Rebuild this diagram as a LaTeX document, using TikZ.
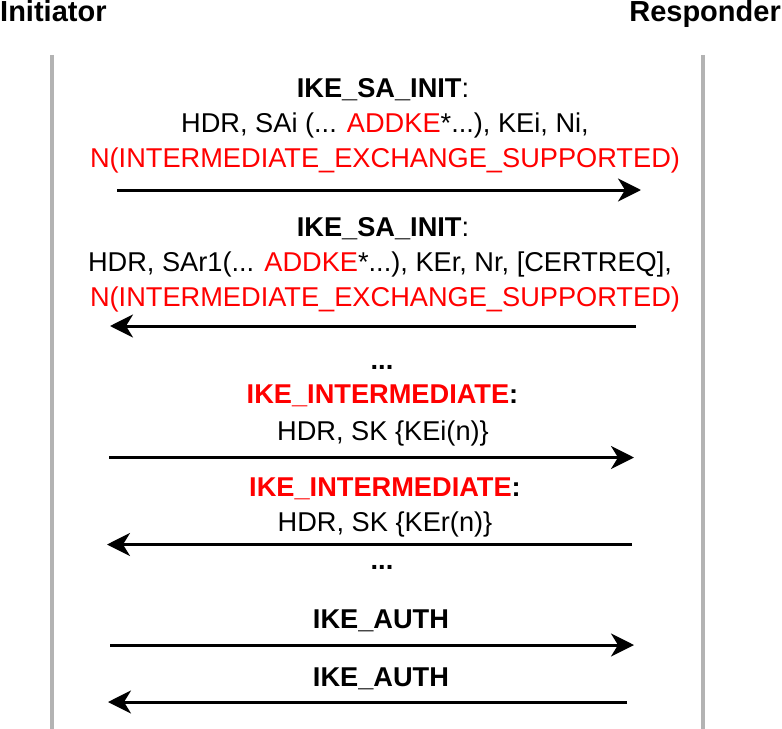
\documentclass[tikz,border=0pt]{standalone}
\usepackage{fontspec}
\setmainfont{Liberation Sans}
\usetikzlibrary{arrows.meta}
\definecolor{ikered}{RGB}{255,0,0}
\definecolor{lifegray}{RGB}{179,179,179}
\begin{document}
\begin{tikzpicture}[x=1bp,y=-1bp,
  msg/.style={draw=black, line width=3bp, -{Stealth[length=23bp,width=23bp,inset=7bp]}},
  life/.style={draw=lifegray, line width=4.5bp},
  txt/.style={anchor=base, inner sep=0pt, font=\fontsize{27.2bp}{32bp}\selectfont},
  ttl/.style={inner sep=0pt, font=\fontsize{29bp}{34bp}\selectfont\bfseries},
  hl/.style={text=ikered}
]
\useasboundingbox (0,0) rectangle (782,729);
% titles
\node[ttl, anchor=base west] (init) at (0,22) {Initiator};
\node[ttl, anchor=base east] (resp) at (781,22) {Responder};
% lifelines
\coordinate (lt) at (52,55);  \coordinate (lb) at (52,729);
\coordinate (rt) at (703,55); \coordinate (rb) at (703,729);
\draw[life] (lt) -- (lb);
\draw[life] (rt) -- (rb);
% message 1
\node[txt] (m1a) at (383,98) {\textbf{IKE\_SA\_INIT}:};
\node[txt] (m1b) at (385,133) {HDR, SAi (... \textcolor{ikered}{ADDKE}*...), KEi, Ni,};
\node[txt, hl] (m1c) at (385,167) {N(INTERMEDIATE\_EXCHANGE\_SUPPORTED)};
\coordinate (a1s) at (117,190); \coordinate (a1e) at (641,190);
\draw[msg] (a1s) -- (a1e);
% message 2
\node[txt] (m2a) at (383,236) {\textbf{IKE\_SA\_INIT}:};
\node[txt] (m2b) at (380,271) {HDR, SAr1(... \textcolor{ikered}{ADDKE}*...), KEr, Nr, [CERTREQ],};
\node[txt, hl] (m2c) at (385,306) {N(INTERMEDIATE\_EXCHANGE\_SUPPORTED)};
\coordinate (a2s) at (636,326); \coordinate (a2e) at (110,326);
\draw[msg] (a2s) -- (a2e);
% dots
\node[txt] (d1) at (382,369) {\textbf{...}};
% intermediate 1
\node[txt] (m3a) at (382.5,403) {\textbf{\textcolor{ikered}{IKE\_INTERMEDIATE}:}};
\node[txt] (m3b) at (383,440.5) {HDR, SK \{KEi(n)\}};
\coordinate (a3s) at (109,457.5); \coordinate (a3e) at (634,457.5);
\draw[msg] (a3s) -- (a3e);
% intermediate 2
\node[txt] (m4a) at (385,496) {\textbf{\textcolor{ikered}{IKE\_INTERMEDIATE}:}};
\node[txt] (m4b) at (385,531.5) {HDR, SK \{KEr(n)\}};
\coordinate (a4s) at (632,544.5); \coordinate (a4e) at (107,544.5);
\draw[msg] (a4s) -- (a4e);
% dots
\node[txt] (d2) at (382,569) {\textbf{...}};
% auth
\node[txt] (m5a) at (381,628) {\textbf{IKE\_AUTH}};
\coordinate (a5s) at (110,645); \coordinate (a5e) at (634,645);
\draw[msg] (a5s) -- (a5e);
\node[txt] (m6a) at (381,686) {\textbf{IKE\_AUTH}};
\coordinate (a6s) at (627,702); \coordinate (a6e) at (108,702);
\draw[msg] (a6s) -- (a6e);
\end{tikzpicture}
\end{document}
